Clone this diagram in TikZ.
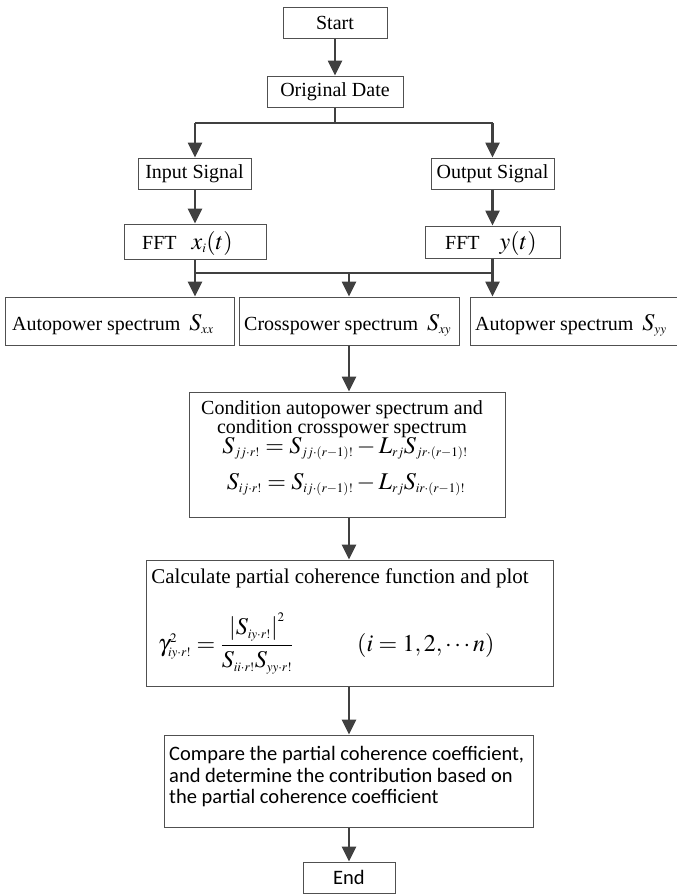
\documentclass[tikz,border=0pt]{standalone}
\usepackage{mathptmx}
\usepackage{fontspec}
\setmainfont{Liberation Serif}
\newfontfamily\calibrifont{Carlito}
\usetikzlibrary{arrows.meta}
\definecolor{ln}{HTML}{404040}
\definecolor{bx}{HTML}{505050}
\DeclareMathSizes{24}{24}{13}{10}
\newcommand\mth{\fontsize{24}{28}\selectfont}
\tikzset{
  box/.style={draw=bx, line width=1pt, inner sep=0pt, minimum height=31pt, font=\fontsize{20}{23}\selectfont},
  conn/.style={draw=ln, line width=2.6pt, -{Triangle[length=15pt,width=14pt]}},
  bus/.style={draw=ln, line width=2.6pt},
  txt/.style={inner sep=0pt, font=\fontsize{20}{23}\selectfont},
  sans/.style={inner sep=0pt, font=\calibrifont\fontsize{20.5}{22}\selectfont},
}
\begin{document}
\begin{tikzpicture}[x=1pt,y=-1pt]
\useasboundingbox (0,0) rectangle (677,894);
% top chain
\node[box, minimum width=104pt] (start) at (335,22.5) {Start};
\node[box, minimum width=136pt] (od) at (335,91.5) {Original Date};
\node[box, minimum width=113pt] (in) at (194.5,173.5) {Input Signal};
\node[box, minimum width=123pt] (out) at (492.5,173.5) {Output Signal};
\node[box, minimum width=142pt, minimum height=35pt] (fftL) at (195,241.5) {};
\node[box, minimum width=135pt, minimum height=32pt] (fftR) at (492.5,242) {};
\node[txt, anchor=base west] (fftLt) at (142,249) {FFT\hspace{15pt}\mth$x_i(t)$};
\node[txt, anchor=base west] (fftRt) at (445,249) {FFT\hspace{20pt}\mth$y(t)$};
% spectrum row
\node[box, minimum width=229pt, minimum height=48pt] (sL) at (119.5,321) {};
\node[box, minimum width=220pt, minimum height=48pt] (sM) at (349,321) {};
\node[box, minimum width=230pt, minimum height=48pt] (sR) at (585,321) {};
\node[txt, anchor=base west] (sLt) at (12,330) {Autopower spectrum\hspace{9pt}\mth$S_{xx}$};
\node[txt, anchor=base west] (sMt) at (244,330) {Crosspower spectrum\hspace{9pt}\mth$S_{xy}$};
\node[txt, anchor=base west] (sRt) at (475,330) {Autopwer spectrum\hspace{9pt}\mth$S_{yy}$};
% condition box
\node[box, minimum width=316pt, minimum height=125pt] (cond) at (347,454.5) {};
\node[txt, anchor=base] (c1) at (342,414) {Condition autopower spectrum and};
\node[txt, anchor=base] (c2) at (342,433) {condition crosspower spectrum};
\node[txt, anchor=base] (c3) at (345,453) {\mth$S_{jj\cdot r!} = S_{jj\cdot(r-1)!} - L_{rj}S_{jr\cdot(r-1)!}$};
\node[txt, anchor=base] (c4) at (346,489) {\mth$S_{ij\cdot r!} = S_{ij\cdot(r-1)!} - L_{rj}S_{ir\cdot(r-1)!}$};
% calculate box
\node[box, minimum width=407pt, minimum height=126pt] (calc) at (349.5,623) {};
\node[txt, anchor=base, font=\fontsize{21}{23}\selectfont] (k1) at (340,583) {Calculate partial coherence function and plot};
\node[txt, anchor=base west] (k2) at (158,651) {\mth$\gamma^2_{iy\cdot r!} = {\displaystyle\frac{\left|S_{iy\cdot r!}\right|^2}{S_{ii\cdot r!}S_{yy\cdot r!}}}$};
\node[txt, anchor=base west] (k3) at (357,651) {\mth$(i=1,2,\cdots n)$};
% compare box
\node[box, minimum width=369pt, minimum height=92pt] (cmp) at (348.5,781) {};
\node[sans, anchor=base west] (m1) at (169,760) {Compare the partial coherence coefficient,};
\node[sans, anchor=base west] (m2) at (169,782) {and determine the contribution based on};
\node[sans, anchor=base west] (m3) at (169,803) {the partial coherence coefficient};
\node[box, minimum width=92pt, font=\calibrifont\fontsize{20.5}{22}\selectfont] (end) at (349,877.5) {End};
% connectors
\draw[conn] (start.south) -- (od.north);
\coordinate (b0) at (335,123);
\coordinate (bl) at (195,123);
\coordinate (br) at (492.5,123);
\draw[bus] (od.south) -- (b0);
\draw[bus] (bl) -- (br);
\draw[conn] (bl) -- (bl |- in.north);
\draw[conn] (br) -- (br |- out.north);
\draw[conn] (in.south -| fftL.north) -- (fftL.north);
\draw[conn] (out.south) -- (out.south |- fftR.north);
\coordinate (j1) at (195,273);
\coordinate (j2) at (349,273);
\coordinate (j3) at (492.5,273);
\draw[bus] (fftL.south) -- (j1) -- (j3);
\draw[bus] (fftR.south -| j3) -- (j3);
\draw[conn] (j1) -- (j1 |- sL.north);
\draw[conn] (j2) -- (j2 |- sM.north);
\draw[conn] (j3) -- (j3 |- sR.north);
\draw[conn] (sM.south) -- (sM.south |- cond.north);
\draw[conn] (sM.south |- cond.south) -- (sM.south |- calc.north);
\draw[conn] (sM.south |- calc.south) -- (sM.south |- cmp.north);
\draw[conn] (sM.south |- cmp.south) -- (end.north);
\end{tikzpicture}
\end{document}
